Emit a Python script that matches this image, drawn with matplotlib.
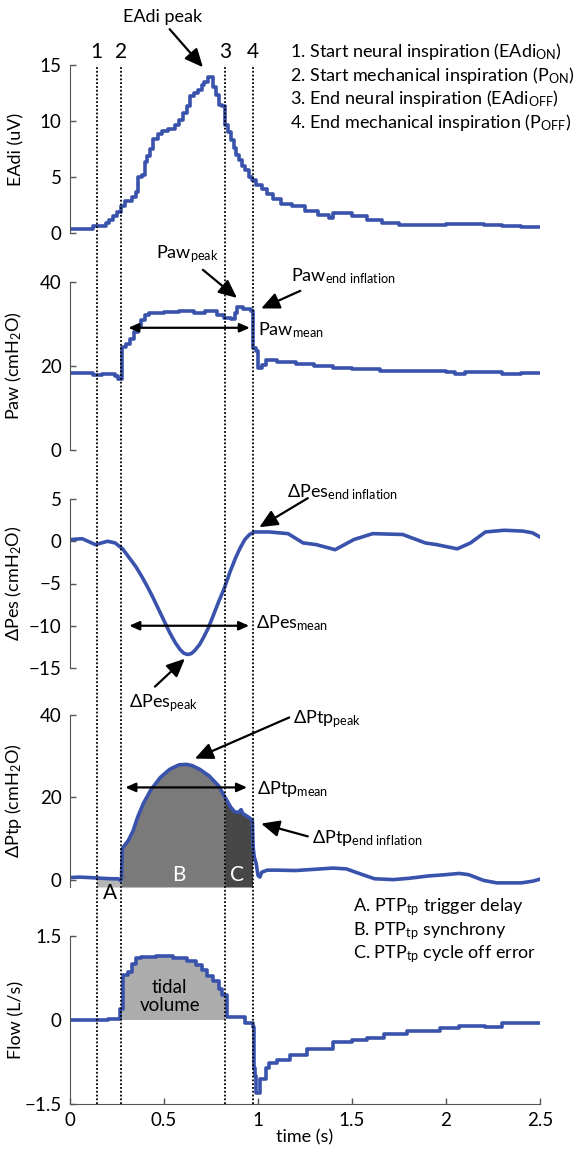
import matplotlib
matplotlib.use('Agg')
import matplotlib.pyplot as plt
import numpy as np

plt.rcParams['font.family'] = ['Lato', 'DejaVu Sans']
plt.rcParams['mathtext.fontset'] = 'custom'
plt.rcParams['mathtext.rm'] = 'Lato'
plt.rcParams['mathtext.it'] = 'Lato:italic'
plt.rcParams['mathtext.bf'] = 'Lato:bold'

# marker times (s): 1 EAdi on, 2 P on, 3 EAdi off, 4 P off
t_events = [0.142, 0.273, 0.823, 0.971]
event_labels = ['1', '2', '3', '4']

# EAdi (uV), step signal
eadi_t = np.array([0, 0.12, 0.19, 0.21, 0.23, 0.25, 0.27, 0.29, 0.33, 0.35, 0.36, 0.385, 0.40, 0.41,
                   0.425, 0.44, 0.47, 0.49, 0.52, 0.56, 0.58, 0.60, 0.62, 0.64, 0.66, 0.68, 0.70,
                   0.715, 0.735, 0.75, 0.76, 0.775, 0.79, 0.81, 0.825, 0.84, 0.855, 0.87, 0.885,
                   0.90, 0.915, 0.93, 0.95, 0.97, 0.99, 1.02, 1.05, 1.08, 1.12, 1.18, 1.25, 1.32,
                   1.38, 1.40, 1.42, 1.5, 1.58, 1.66, 1.75, 1.85, 2.0, 2.1, 2.2, 2.3, 2.4, 2.5])
eadi = np.array([0.4, 0.6, 0.9, 1.2, 1.5, 1.9, 2.4, 2.9, 3.2, 3.7, 5.0, 5.2, 6.3, 6.9,
                 7.5, 8.4, 8.8, 9.1, 9.3, 9.6, 10.1, 10.7, 11.3, 12.2, 12.5, 12.8, 13.2,
                 13.5, 13.9, 13.9, 13.0, 12.3, 11.4, 11.3, 9.6, 9.0, 8.3, 7.6, 7.0,
                 6.5, 6.0, 5.6, 5.0, 4.7, 4.3, 3.9, 3.5, 3.0, 2.6, 2.4, 2.0, 1.6,
                 1.3, 1.75, 1.8, 1.5, 1.2, 0.9, 0.75, 0.75, 0.8, 0.8, 0.7, 0.6, 0.55, 0.55])

# Paw (cmH2O), step signal
paw_t = np.array([0, 0.12, 0.17, 0.24, 0.255, 0.275, 0.30, 0.32, 0.34, 0.36, 0.38, 0.40, 0.42, 0.50,
                  0.58, 0.66, 0.72, 0.78, 0.82, 0.855, 0.875, 0.89, 0.92, 0.965, 0.975, 0.99, 1.0,
                  1.02, 1.04, 1.1, 1.2, 1.3, 1.4, 1.5, 1.6, 1.65, 1.8, 2.0, 2.05, 2.1, 2.3, 2.4, 2.5])
paw = np.array([18.3, 17.9, 18.1, 17.6, 17.0, 24.6, 25.3, 26.5, 28.0, 29.6, 31.0, 32.2, 32.6, 32.8,
                33.0, 32.7, 33.1, 32.2, 31.5, 31.2, 32.6, 34.1, 33.5, 33.2, 24.4, 23.6, 19.6,
                20.3, 21.4, 21.0, 20.5, 20.0, 19.6, 19.4, 19.2, 18.8, 18.7, 18.6, 18.2, 18.6, 18.1, 18.3, 18.4])

# delta Pes (cmH2O)
pes_t = np.array([0, 0.065, 0.135, 0.2, 0.24, 0.28, 0.32, 0.35, 0.38, 0.41, 0.44, 0.47, 0.50, 0.53,
                  0.56, 0.585, 0.605, 0.625, 0.645, 0.665, 0.69, 0.71, 0.735, 0.76, 0.79, 0.82, 0.85,
                  0.88, 0.905, 0.93, 0.955, 0.98, 1.06, 1.16, 1.24, 1.31, 1.41, 1.51, 1.61, 1.77,
                  1.89, 1.95, 2.06, 2.13, 2.21, 2.31, 2.41, 2.46, 2.5])
pes = np.array([0.2, 0.3, -0.4, 0.0, -0.2, -0.9, -2.1, -3.0, -4.1, -5.3, -6.6, -8.0, -9.4, -10.8,
                -12.0, -12.8, -13.25, -13.4, -13.3, -12.9, -12.2, -11.4, -10.3, -8.9, -7.2, -5.6, -3.7,
                -2.0, -0.8, 0.2, 0.8, 1.1, 1.1, 0.9, -0.2, -0.4, -1.0, 0.2, 0.9, 0.8,
                -0.2, -0.4, -0.9, -0.2, 1.1, 1.3, 1.2, 1.0, 0.5])

# delta Ptp (cmH2O)
ptp_t = np.array([0, 0.05, 0.10, 0.14, 0.18, 0.22, 0.255, 0.268, 0.274, 0.278, 0.29, 0.31, 0.335,
                  0.36, 0.39, 0.43, 0.48, 0.53, 0.58, 0.62, 0.65, 0.69, 0.74, 0.79, 0.825, 0.855,
                  0.875, 0.895, 0.91, 0.92, 0.935, 0.955, 0.97, 0.974, 0.98, 0.99, 1.0, 1.01, 1.02,
                  1.05, 1.1, 1.2, 1.3, 1.4, 1.47, 1.55, 1.62, 1.72, 1.8, 1.91, 2.0, 2.07, 2.12,
                  2.2, 2.27, 2.4, 2.46, 2.5])
ptp = np.array([0.5, 0.6, 0.5, 0.4, 0.3, 0.2, 0.2, -0.2, 0.3, 7.5, 8.3, 9.5, 11.8,
                15.2, 18.5, 21.8, 24.8, 26.8, 27.9, 28.0, 27.7, 26.8, 25.2, 22.8, 20.0, 17.6,
                16.5, 16.3, 17.0, 16.0, 15.6, 15.0, 14.4, 8.0, 5.5, 4.0, 1.0, 0.6, 1.8,
                2.3, 2.3, 2.2, 2.5, 2.8, 2.6, 1.3, 0.2, 0.0, 0.3, 0.9, 1.2, 1.5, 1.2,
                -0.2, -0.8, -0.8, -0.4, 0.1])

# Flow (L/s), step signal
flow_t = np.array([0, 0.2, 0.265, 0.28, 0.31, 0.33, 0.35, 0.38, 0.46, 0.55, 0.62, 0.67, 0.70, 0.73,
                   0.76, 0.79, 0.81, 0.835, 0.93, 0.972, 0.978, 0.985, 0.99, 1.01, 1.04, 1.06, 1.1,
                   1.17, 1.26, 1.4, 1.5, 1.58, 1.67, 1.79, 1.97, 2.07, 2.21, 2.3, 2.5])
flow = np.array([0.0, 0.01, 0.2, 0.8, 0.86, 1.0, 1.1, 1.13, 1.14, 1.1, 1.05, 0.98, 0.9, 0.78,
                 0.7, 0.55, 0.45, 0.05, -0.06, -0.12, -0.85, -1.0, -1.3, -1.05, -0.85, -0.77, -0.72,
                 -0.63, -0.52, -0.4, -0.36, -0.33, -0.25, -0.2, -0.15, -0.11, -0.13, -0.06, -0.06])

blue = '#3953ad'
spine_c = '#555555'
fs = 13
lw_sig = 2.6

fig = plt.figure(figsize=(5.85, 11.54), dpi=100)
L, W = 70 / 585, 470 / 585


def add_panel(top, bottom):
    ax = fig.add_axes([L, 1 - bottom / 1154, W, (bottom - top) / 1154])
    ax.set_xlim(0, 2.5)
    for s in ['top', 'right', 'bottom']:
        ax.spines[s].set_visible(False)
    ax.spines['left'].set_color(spine_c)
    ax.tick_params(direction='in', length=4, width=1, color=spine_c, pad=6, labelsize=fs + 0.5)
    ax.set_xticks([])
    ax.patch.set_alpha(0)
    ax.yaxis.set_label_coords(-0.097, 0.5)
    return ax


ax1 = add_panel(65, 233)
ax2 = add_panel(282, 450)
ax3 = add_panel(499, 668)
ax4 = add_panel(715, 887)
ax5 = add_panel(936, 1104)

arrow = dict(arrowstyle='-|>,head_length=0.55,head_width=0.25', color='k', lw=1.6,
             mutation_scale=20, shrinkA=0, shrinkB=0)
darrow = dict(arrowstyle='<|-|>,head_length=0.5,head_width=0.22', color='k', lw=1.6,
              mutation_scale=12, shrinkA=0, shrinkB=0)

# --- EAdi ---
ax1.plot(eadi_t, eadi, color=blue, lw=lw_sig, drawstyle='steps-post')
ax1.set_ylim(0, 15)
ax1.set_yticks([0, 5, 10, 15])
ax1.set_ylabel('EAdi (uV)', fontsize=fs)
for te, lab in zip(t_events, event_labels):
    ax1.text(te, 16.2, lab, ha='center', va='center', fontsize=15)
ax1.text(0.495, 19.3, 'EAdi peak', ha='center', va='center', fontsize=fs)
ax1.annotate('', xy=(0.707, 14.8), xytext=(0.53, 18.2), arrowprops=arrow, annotation_clip=False)
legend1 = ['1. Start neural inspiration (EAdi$_{\\mathrm{ON}}$)',
           '2. Start mechanical inspiration (P$_{\\mathrm{ON}}$)',
           '3. End neural inspiration (EAdi$_{\\mathrm{OFF}}$)',
           '4. End mechanical inspiration (P$_{\\mathrm{OFF}}$)']
for i, s in enumerate(legend1):
    ax1.text(1.17, 15.7 - 2.1 * i, s, ha='left', va='baseline', fontsize=fs)

# --- Paw ---
ax2.plot(paw_t, paw, color=blue, lw=lw_sig, drawstyle='steps-post')
ax2.set_ylim(0, 40)
ax2.set_yticks([0, 20, 40])
ax2.set_ylabel('Paw (cmH$_{\\mathrm{2}}$O)', fontsize=fs)
ax2.annotate('', xy=(0.31, 29.1), xytext=(0.957, 29.1), arrowprops=darrow)
ax2.text(1.0, 27.4, 'Paw$_{\\mathrm{mean}}$', ha='left', va='baseline', fontsize=fs)
ax2.text(0.46, 45.7, 'Paw$_{\\mathrm{peak}}$', ha='left', va='baseline', fontsize=fs)
ax2.annotate('', xy=(0.888, 36.2), xytext=(0.707, 42.9), arrowprops=arrow, annotation_clip=False)
ax2.text(1.175, 40.1, 'Paw$_{\\mathrm{end\\ inflation}}$', ha='left', va='baseline', fontsize=fs)
ax2.annotate('', xy=(1.017, 33.7), xytext=(1.225, 37.9), arrowprops=arrow, annotation_clip=False)

# --- delta Pes ---
ax3.plot(pes_t, pes, color=blue, lw=lw_sig)
ax3.set_ylim(-15, 5)
ax3.set_yticks([-15, -10, -5, 0, 5])
ax3.set_ylabel('ΔPes (cmH$_{\\mathrm{2}}$O)', fontsize=fs)
ax3.annotate('', xy=(0.315, -10), xytext=(0.953, -10), arrowprops=darrow)
ax3.text(0.987, -10.3, 'ΔPes$_{\\mathrm{mean}}$', ha='left', va='baseline', fontsize=fs)
ax3.text(1.156, 5.2, 'ΔPes$_{\\mathrm{end\\ inflation}}$', ha='left', va='baseline', fontsize=fs)
ax3.annotate('', xy=(1.007, 1.66), xytext=(1.265, 5.1), arrowprops=arrow, annotation_clip=False)
ax3.text(0.313, -19.7, 'ΔPes$_{\\mathrm{peak}}$', ha='left', va='baseline', fontsize=fs)
ax3.annotate('', xy=(0.611, -13.9), xytext=(0.452, -17.2), arrowprops=arrow, annotation_clip=False)

# --- delta Ptp ---
ptp_bottom = -1.8


def fill_segment(ax, t, v, t0, t1, color):
    inside = (t > t0) & (t < t1)
    ts = np.concatenate([[t0], t[inside], [t1]])
    vs = np.concatenate([[np.interp(t0, t, v)], v[inside], [np.interp(t1, t, v)]])
    ax.fill_between(ts, vs, ptp_bottom, color=color, lw=0)


fill_segment(ax4, ptp_t, ptp, t_events[0], t_events[1], '#b5b5b5')
fill_segment(ax4, ptp_t, ptp, t_events[1], t_events[2], '#7a7a7a')
fill_segment(ax4, ptp_t, ptp, t_events[2], t_events[3], '#474747')
ax4.plot(ptp_t, ptp, color=blue, lw=lw_sig)
ax4.set_ylim(ptp_bottom, 40)
ax4.set_yticks([0, 20, 40])
ax4.set_ylabel('ΔPtp (cmH$_{\\mathrm{2}}$O)', fontsize=fs)
ax4.text(0.213, -4.6, 'A', ha='center', va='baseline', fontsize=15)
ax4.text(0.58, -0.3, 'B', ha='center', va='baseline', fontsize=15, color='white')
ax4.text(0.888, -0.3, 'C', ha='center', va='baseline', fontsize=15, color='white')
ax4.annotate('', xy=(0.294, 22.4), xytext=(0.942, 22.4), arrowprops=darrow)
ax4.text(0.997, 20.9, 'ΔPtp$_{\\mathrm{mean}}$', ha='left', va='baseline', fontsize=fs)
ax4.text(1.186, 38.0, 'ΔPtp$_{\\mathrm{peak}}$', ha='left', va='baseline', fontsize=fs)
ax4.annotate('', xy=(0.664, 29.4), xytext=(1.166, 39.4), arrowprops=arrow, annotation_clip=False)
ax4.text(1.285, 8.8, 'ΔPtp$_{\\mathrm{end\\ inflation}}$', ha='left', va='baseline', fontsize=fs)
ax4.annotate('', xy=(1.017, 13.6), xytext=(1.265, 10.5), arrowprops=arrow, annotation_clip=False)

# --- Flow ---
inside = (flow_t > t_events[1]) & (flow_t < t_events[2])
tv_t = np.concatenate([[t_events[1]], flow_t[inside], [t_events[2]]])
tv_v = np.concatenate([[flow[np.searchsorted(flow_t, t_events[1], side='right') - 1]],
                       flow[inside], [flow[inside][-1]]])
ax5.fill_between(tv_t, tv_v, 0, step='post', color='#acacac', lw=0)
ax5.plot(flow_t, flow, color=blue, lw=lw_sig, drawstyle='steps-post')
ax5.set_ylim(-1.5, 1.5)
ax5.set_yticks([-1.5, 0, 1.5])
ax5.set_yticklabels(['\u22121.5', '0', '1.5'])
ax5.spines['bottom'].set_visible(True)
ax5.spines['bottom'].set_color(spine_c)
ax5.set_xticks([0, 0.5, 1, 1.5, 2, 2.5])
ax5.set_xticklabels(['0', '0.5', '1', '1.5', '2', '2.5'])
ax5.set_ylabel('Flow (L/s)', fontsize=fs)
ax5.set_xlabel('time (s)', fontsize=fs)
ax5.xaxis.set_label_coords(0.5, -0.15)
ax5.text(0.53, 0.42, 'tidal\nvolume', ha='center', va='center', fontsize=fs + 0.5, linespacing=1.05)
legend2 = ['A. PTP$_{\\mathrm{tp}}$ trigger delay',
           'B. PTP$_{\\mathrm{tp}}$ synchrony',
           'C. PTP$_{\\mathrm{tp}}$ cycle off error']
for i, s in enumerate(legend2):
    ax5.text(1.503, 1.94 - 0.42 * i, s, ha='left', va='baseline', fontsize=fs)

# dotted event lines across all panels
ov = fig.add_axes([L, 1 - 1104 / 1154, W, (1104 - 65) / 1154], zorder=10)
ov.set_xlim(0, 2.5)
ov.set_ylim(0, 1)
ov.axis('off')
for te in t_events:
    ov.axvline(te, color='k', lw=1.3, ls=(0, (1, 1.1)))

fig.savefig('out.png', dpi=100)
